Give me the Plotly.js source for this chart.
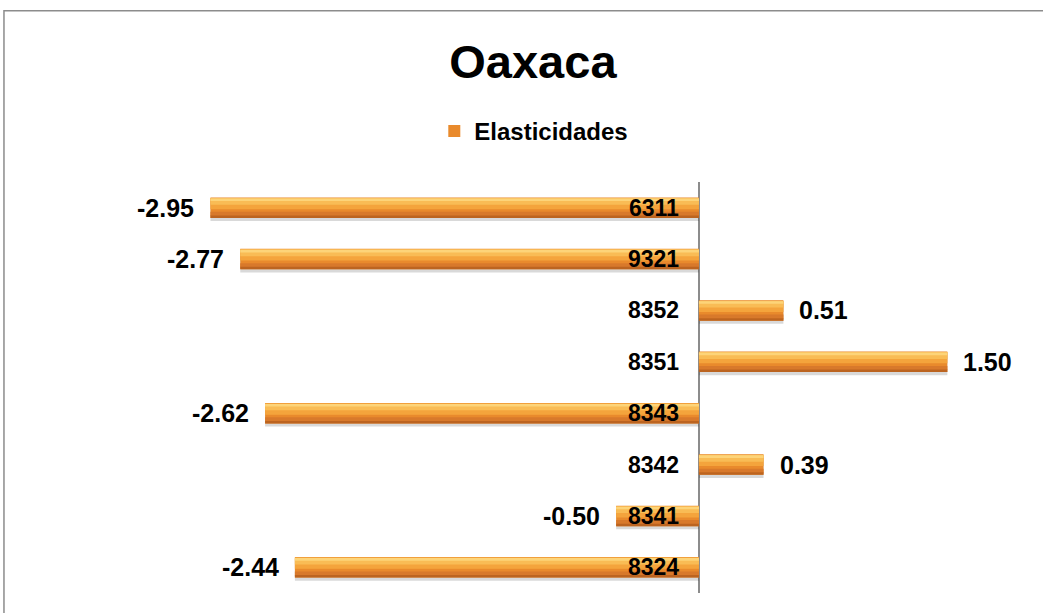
<!DOCTYPE html>
<html>
<head>
<meta charset="utf-8">
<script src="https://cdn.plot.ly/plotly-3.0.1.min.js"></script>
<style>
html,body{margin:0;padding:0;background:#fff;}
#chart{width:1043px;height:613px;}
</style>
</head>
<body>
<div id="chart"></div>
<script>
// Data (top to bottom)
const categories = ["6311", "9321", "8352", "8351", "8343", "8342", "8341", "8324"];
const values = [-2.95, -2.77, 0.51, 1.50, -2.62, 0.39, -0.50, -2.44];
const seriesName = "Elasticidades";
const chartTitle = "Oaxaca";

const FONT = "Liberation Sans, Arial, sans-serif";

function layer(color, offset, width, extra) {
  return Object.assign({
    type: "bar",
    orientation: "h",
    x: values,
    y: categories,
    offset: offset,
    width: width,
    marker: {color: color, line: {width: 0}},
    hoverinfo: "skip",
    showlegend: false
  }, extra || {});
}

const traces = [
  layer("rgba(0,0,0,0.15)", -0.16, 0.42),               // soft shadow
  layer("#E98A2C", -0.2, 0.4, {name: seriesName, showlegend: true}), // base
  layer("#F4A43C", -0.19, 0.22),                          // upper light band
  layer("#F9BC55", -0.185, 0.13),                         // upper highlight
  layer("#FDD479", -0.18, 0.05),                          // top edge highlight
  layer("#D8792B", 0.08, 0.08),                           // lower shade
  layer("#BC6420", 0.15, 0.05)                            // bottom edge
];

const annotations = [];
categories.forEach((c, i) => {
  // category label next to the zero axis (y given as category index)
  annotations.push({
    x: 0, y: i, xref: "x", yref: "y",
    text: "<b>" + c + "</b>",
    showarrow: false, xanchor: "right", yanchor: "middle", xshift: -18,
    font: {family: FONT, size: 23, color: "#000"}
  });
  const v = values[i];
  annotations.push({
    x: v, y: i, xref: "x", yref: "y",
    text: "<b>" + v.toFixed(2) + "</b>",
    showarrow: false,
    xanchor: v < 0 ? "right" : "left",
    yanchor: "middle",
    xshift: v < 0 ? -14 : 14,
    font: {family: FONT, size: 25, color: "#000"}
  });
});

const layout = {
  width: 1043, height: 613,
  paper_bgcolor: "#fff", plot_bgcolor: "rgba(0,0,0,0)",
  margin: {l: 100, r: 43, t: 182, b: 20},
  barmode: "overlay",
  title: {
    text: "<b>" + chartTitle + "</b>",
    font: {family: FONT, size: 47, color: "#000"},
    xref: "paper", x: 0.481, xanchor: "center",
    yref: "container", y: 0.9, yanchor: "middle"
  },
  showlegend: true,
  legend: {
    orientation: "h",
    xref: "paper", x: 0.482, xanchor: "center",
    yref: "paper", y: 1.123, yanchor: "middle",
    font: {family: FONT, size: 24, color: "#000", weight: "bold"},
    itemwidth: 30,
    bgcolor: "rgba(0,0,0,0)"
  },
  xaxis: {
    range: [-3.617, 1.818],
    showgrid: false, showticklabels: false, ticks: "",
    zeroline: true, zerolinecolor: "#8c8c8c", zerolinewidth: 1.5,
    showline: false, fixedrange: true
  },
  yaxis: {
    type: "category",
    range: [7.5, -0.5],
    showgrid: false, showticklabels: false, ticks: "",
    zeroline: false, showline: false, fixedrange: true
  },
  annotations: annotations,
  shapes: [{
    type: "rect", xref: "paper", yref: "paper",
    x0: -0.1067, x1: 1.2, y0: -0.2, y1: 1.4164,
    line: {color: "#8c8c8c", width: 1.5}, fillcolor: "rgba(0,0,0,0)",
    layer: "below"
  }]
};

Plotly.newPlot("chart", traces, layout, {staticPlot: true, displayModeBar: false});
</script>
</body>
</html>
